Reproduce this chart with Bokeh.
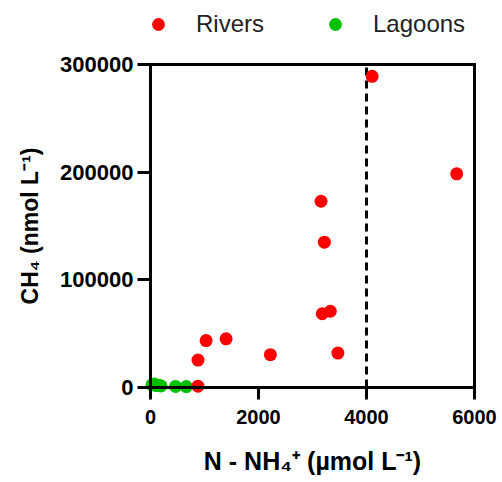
from bokeh.plotting import figure
from bokeh.models import (Range1d, FixedTicker, BasicTickFormatter,
                          Legend, LegendItem, ColumnDataSource)
from bokeh.embed import file_html
from bokeh.resources import INLINE

# ---- data ----
rivers_nh4 = [4105, 5670, 3158, 3220, 3180, 3330, 3470, 2220, 1400, 1030, 880, 879]
rivers_ch4 = [289000, 198500, 173000, 135000, 68500, 70800, 32000, 30500, 45200, 43600, 25500, 1200]
lagoons_nh4 = [28, 70, 110, 160, 195, 464, 663]
lagoons_ch4 = [2500, 3200, 1800, 2200, 1500, 1000, 900]
x_ticks = [0, 2000, 4000, 6000]
y_ticks = [0, 100000, 200000, 300000]
threshold_nh4 = 4000

FONT = "Liberation Sans"

# plot area: x 0..6000 -> px 150..474, y 0..300000 -> px 387..64
W, H = 502, 482
xu = 6000 / 324.0
yu = 300000 / 323.0
p = figure(width=W, height=H, output_backend="svg", toolbar_location=None,
           x_range=Range1d(-150 * xu, 6000 + (W - 474) * xu),
           y_range=Range1d(-(H - 387) * yu, 300000 + 64 * yu),
           min_border_left=0, min_border_right=0,
           min_border_top=0, min_border_bottom=0)

p.xgrid.visible = False
p.ygrid.visible = False
p.outline_line_color = None
p.background_fill_color = "white"
p.border_fill_color = "white"

for ax in (p.xaxis[0], p.yaxis[0]):
    ax.axis_line_width = 3
    ax.axis_line_color = "black"
    ax.major_tick_line_width = 3
    ax.major_tick_line_color = "black"
    ax.major_tick_in = 0
    ax.minor_tick_line_color = None
    ax.major_label_text_font = FONT
    ax.major_label_text_font_style = "bold"
    ax.major_label_text_color = "black"
    ax.axis_label_text_font = FONT
    ax.axis_label_text_font_style = "bold"
    ax.axis_label_text_color = "black"
    ax.fixed_location = 0

p.xaxis[0].ticker = FixedTicker(ticks=x_ticks)
p.yaxis[0].ticker = FixedTicker(ticks=y_ticks)
p.yaxis[0].formatter = BasicTickFormatter(use_scientific=False)
p.xaxis[0].formatter = BasicTickFormatter(use_scientific=False)
p.xaxis[0].bounds = (x_ticks[0], x_ticks[-1])
p.yaxis[0].bounds = (y_ticks[0], y_ticks[-1])

p.xaxis[0].major_tick_out = 12
p.xaxis[0].major_label_standoff = 10
p.xaxis[0].major_label_text_font_size = "20px"
p.xaxis[0].axis_label = "N - NH\u2084\u207a (\u00b5mol L\u207b\u00b9)"
p.xaxis[0].axis_label_text_font_size = "25px"
p.xaxis[0].axis_label_standoff = 20

p.yaxis[0].major_tick_out = 13
p.yaxis[0].major_label_standoff = 4
p.yaxis[0].major_label_text_font_size = "22px"
p.yaxis[0].axis_label = "CH\u2084 (nmol L\u207b\u00b9)"
p.yaxis[0].axis_label_text_font_size = "23px"
p.yaxis[0].axis_label_standoff = 14

# top and right frame lines
p.segment(x0=[x_ticks[0], x_ticks[-1]], y0=[y_ticks[-1], y_ticks[0]],
          x1=[x_ticks[-1], x_ticks[-1]], y1=[y_ticks[-1], y_ticks[-1]],
          line_color="black", line_width=3, line_cap="square")

# dashed threshold line
p.segment(x0=[threshold_nh4], y0=[y_ticks[0]], x1=[threshold_nh4], y1=[y_ticks[-1]],
          line_color="black", line_width=3, line_dash="8 5")

src_r = ColumnDataSource(dict(x=rivers_nh4, y=rivers_ch4))
src_l = ColumnDataSource(dict(x=lagoons_nh4, y=lagoons_ch4))
r_lag = p.scatter("x", "y", source=src_l, size=13, color="#00c000", line_color=None)
r_riv = p.scatter("x", "y", source=src_r, size=13, color="#ff0000", line_color=None)

legend = Legend(items=[LegendItem(label="Rivers", renderers=[r_riv]),
                       LegendItem(label="Lagoons", renderers=[r_lag])],
                orientation="horizontal", location=(142, H - 40),
                padding=0, margin=0, spacing=55,
                glyph_width=32, glyph_height=32, label_standoff=22,
                label_text_font=FONT, label_text_font_size="24px",
                label_text_color="#222222",
                border_line_color=None, background_fill_alpha=0)
p.add_layout(legend, "center")

open("out.html", "w").write(file_html(p, INLINE))
